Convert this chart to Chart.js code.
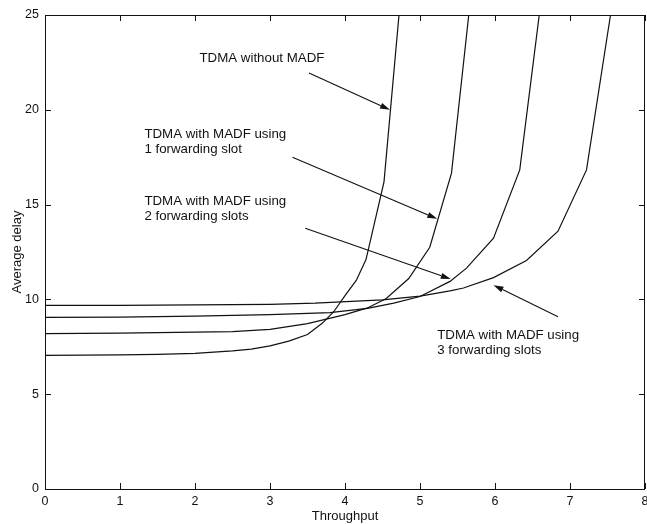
<!DOCTYPE html>
<html>
<head>
<meta charset="utf-8">
<script src="https://cdn.jsdelivr.net/npm/chart.js@4"></script>
<style>
  html, body { margin: 0; padding: 0; background: #fff; }
  #wrap { width: 647px; height: 524px; position: relative; }
</style>
</head>
<body>
<div id="wrap"><canvas id="c" width="647" height="524"></canvas></div>
<script>
// ---- data ----
const seriesNames = [
  'TDMA without MADF',
  'TDMA with MADF using 1 forwarding slot',
  'TDMA with MADF using 2 forwarding slots',
  'TDMA with MADF using 3 forwarding slots'
];
const throughputNoMadf = [0, 1, 1.5, 2, 2.5, 2.75, 3, 3.25, 3.5, 3.7, 3.85, 4.0, 4.15, 4.28, 4.52, 4.72];
const delayNoMadf      = [7.05, 7.07, 7.1, 7.15, 7.28, 7.38, 7.55, 7.8, 8.15, 8.75, 9.35, 10.2, 11.0, 12.1, 16.2, 25];

const throughput1Slot = [0, 1, 2, 2.5, 3, 3.5, 4.0, 4.3, 4.55, 4.85, 5.13, 5.42, 5.65];
const delay1Slot      = [8.2, 8.22, 8.27, 8.3, 8.42, 8.72, 9.2, 9.55, 10.05, 11.1, 12.75, 16.66, 25];

const throughput2Slots = [0, 1, 2, 3, 3.8, 4.3, 4.65, 5.0, 5.4, 5.62, 5.98, 6.33, 6.59];
const delay2Slots      = [9.05, 9.07, 9.12, 9.2, 9.3, 9.53, 9.8, 10.15, 10.95, 11.65, 13.23, 16.83, 25];

const throughput3Slots = [0, 1, 2, 3, 3.6, 4.5, 5.0, 5.4, 5.58, 5.98, 6.42, 6.84, 7.22, 7.54];
const delay3Slots      = [9.68, 9.69, 9.71, 9.74, 9.8, 9.97, 10.17, 10.45, 10.6, 11.15, 12.05, 13.6, 16.83, 25];

const xAxisTitle = 'Throughput';
const yAxisTitle = 'Average delay';

// annotation texts (lines) and their anchor / arrow points in data units
const noteLines = [
  ['TDMA without MADF'],
  ['TDMA with MADF using', '1 forwarding slot'],
  ['TDMA with MADF using', '2 forwarding slots'],
  ['TDMA with MADF using', '3 forwarding slots']
];
const noteAnchorX = [2.06, 1.325, 1.325, 5.23];
const noteAnchorY = [22.5, 18.5, 15.0, 7.9];
const arrowFromX = [3.52, 3.30, 3.47, 6.84];
const arrowFromY = [21.94, 17.5, 13.75, 9.09];
const arrowToX   = [4.60, 5.23, 5.41, 5.98];
const arrowToY   = [20.0, 14.25, 11.07, 10.75];

// ---- build chart ----
const xsList = [throughputNoMadf, throughput1Slot, throughput2Slots, throughput3Slots];
const ysList = [delayNoMadf, delay1Slot, delay2Slots, delay3Slots];

const FONT = '"Liberation Sans", Arial, Helvetica, sans-serif';
const INK = '#111';

const datasets = seriesNames.map((name, k) => ({
  label: name,
  data: xsList[k].map((x, i) => ({ x: x, y: ysList[k][i] })),
  borderColor: INK,
  borderWidth: 1.2,
  pointRadius: 0,
  tension: 0,
  fill: false
}));

const framePlugin = {
  id: 'frame',
  afterDraw(chart) {
    const { ctx, chartArea: a, scales } = chart;
    const xs = scales.x, ys = scales.y;
    ctx.save();
    ctx.strokeStyle = INK;
    ctx.lineWidth = 1;
    ctx.strokeRect(Math.round(a.left) + 0.5, Math.round(a.top) + 0.5,
                   Math.round(a.right - a.left) - 1, Math.round(a.bottom - a.top));
    const tl = 6;
    ctx.beginPath();
    xs.ticks.forEach(t => {
      const px = Math.round(xs.getPixelForValue(t.value)) + 0.5;
      ctx.moveTo(px, a.bottom); ctx.lineTo(px, a.bottom - tl);
      ctx.moveTo(px, a.top); ctx.lineTo(px, a.top + tl);
    });
    ys.ticks.forEach(t => {
      const py = Math.round(ys.getPixelForValue(t.value)) + 0.5;
      ctx.moveTo(a.left, py); ctx.lineTo(a.left + tl, py);
      ctx.moveTo(a.right, py); ctx.lineTo(a.right - tl, py);
    });
    ctx.stroke();

    // annotations
    ctx.fillStyle = INK;
    ctx.font = '13.3px ' + FONT;
    ctx.textAlign = 'left';
    ctx.textBaseline = 'alphabetic';
    noteLines.forEach((lines, k) => {
      const x0 = xs.getPixelForValue(noteAnchorX[k]);
      const y0 = ys.getPixelForValue(noteAnchorY[k]);
      lines.forEach((s, j) => ctx.fillText(s, x0, y0 + j * 15));
    });
    arrowFromX.forEach((fx, k) => {
      const x1 = xs.getPixelForValue(fx), y1 = ys.getPixelForValue(arrowFromY[k]);
      const x2 = xs.getPixelForValue(arrowToX[k]), y2 = ys.getPixelForValue(arrowToY[k]);
      const ang = Math.atan2(y2 - y1, x2 - x1);
      const hl = 10, hw = 3;
      ctx.beginPath();
      ctx.moveTo(x1, y1);
      ctx.lineTo(x2 - hl * Math.cos(ang), y2 - hl * Math.sin(ang));
      ctx.lineWidth = 1.1;
      ctx.stroke();
      ctx.beginPath();
      ctx.moveTo(x2, y2);
      ctx.lineTo(x2 - hl * Math.cos(ang) + hw * Math.sin(ang), y2 - hl * Math.sin(ang) - hw * Math.cos(ang));
      ctx.lineTo(x2 - hl * Math.cos(ang) - hw * Math.sin(ang), y2 - hl * Math.sin(ang) + hw * Math.cos(ang));
      ctx.closePath();
      ctx.fill();
    });
    ctx.restore();
  }
};

new Chart(document.getElementById('c'), {
  type: 'line',
  data: { datasets },
  options: {
    responsive: false,
    animation: false,
    events: [],
    layout: { padding: { top: 15, right: 2, left: 0, bottom: 0 } },
    plugins: { legend: { display: false }, tooltip: { enabled: false } },
    scales: {
      x: {
        type: 'linear', min: 0, max: 8,
        grid: { display: false, drawTicks: false },
        border: { display: false },
        ticks: { stepSize: 1, padding: 5, color: INK, font: { family: FONT, size: 12.5 }, maxRotation: 0 },
        title: { display: true, text: xAxisTitle, color: INK, font: { family: FONT, size: 13 }, padding: { top: 0, bottom: 0 } },
        afterFit(s) { s.height = 35; s.paddingLeft = 0; s.paddingRight = 0; }
      },
      y: {
        type: 'linear', min: 0, max: 25,
        grid: { display: false, drawTicks: false },
        border: { display: false },
        ticks: { stepSize: 5, padding: 6, color: INK, font: { family: FONT, size: 12.5 } },
        title: { display: true, text: yAxisTitle, color: INK, font: { family: FONT, size: 13 }, padding: { top: 10, bottom: 0 } },
        afterFit(s) { s.width = 45; s.paddingTop = 0; s.paddingBottom = 0; }
      }
    }
  },
  plugins: [framePlugin]
});
</script>
</body>
</html>
